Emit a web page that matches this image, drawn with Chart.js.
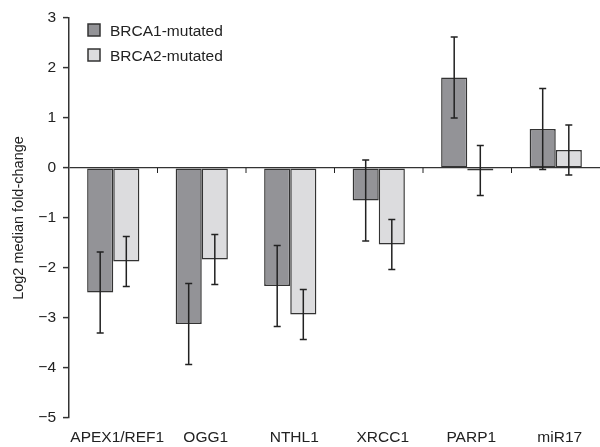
<!DOCTYPE html>
<html>
<head>
<meta charset="utf-8">
<script src="https://cdn.jsdelivr.net/npm/chart.js@4"></script>
<style>
  body { margin: 0; background: #fff; }
  #wrap { width: 600px; height: 447px; position: relative; }
</style>
</head>
<body>
<div id="wrap"><canvas id="chart"></canvas></div>
<script>
// Data
const genes = ["APEX1/REF1", "OGG1", "NTHL1", "XRCC1", "PARP1", "miR17"];
const brca1 = [-2.49, -3.12, -2.36, -0.65, 1.81, 0.78];
const brca1Err = [0.81, 0.81, 0.81, 0.81, 0.81, 0.81];
const brca2 = [-1.87, -1.83, -2.93, -1.53, -0.05, 0.36];
const brca2Err = [0.50, 0.50, 0.50, 0.50, 0.50, 0.50];
const yTicks = [-5, -4, -3, -2, -1, 0, 1, 2, 3];

const FONT = '"Liberation Sans", Arial, Helvetica, sans-serif';
const INK = '#222';

// error bars on top of every bar
const errorBars = {
  id: 'errorBars',
  afterDatasetsDraw(chart) {
    const ctx = chart.ctx;
    const y = chart.scales.y;
    ctx.save();
    ctx.strokeStyle = INK;
    ctx.lineWidth = 1.5;
    chart.data.datasets.forEach((ds, i) => {
      const meta = chart.getDatasetMeta(i);
      meta.data.forEach((bar, j) => {
        const v = ds.data[j];
        const e = ds.errors[j];
        const top = y.getPixelForValue(v + e);
        const bot = y.getPixelForValue(v - e);
        ctx.beginPath();
        ctx.moveTo(bar.x, top);
        ctx.lineTo(bar.x, bot);
        ctx.moveTo(bar.x - 3.5, top);
        ctx.lineTo(bar.x + 3.5, top);
        ctx.moveTo(bar.x - 3.5, bot);
        ctx.lineTo(bar.x + 3.5, bot);
        ctx.stroke();
      });
    });
    ctx.restore();
  }
};

// small ticks on the zero line between categories + legend
const extras = {
  id: 'extras',
  afterDraw(chart) {
    const ctx = chart.ctx;
    const x = chart.scales.x;
    const y0 = chart.scales.y.getPixelForValue(0);
    ctx.save();
    ctx.strokeStyle = INK;
    ctx.lineWidth = 1;
    for (let i = 1; i < genes.length; i++) {
      const px = (x.getPixelForValue(i - 1) + x.getPixelForValue(i)) / 2;
      ctx.beginPath();
      ctx.moveTo(px, y0);
      ctx.lineTo(px, y0 + 5);
      ctx.stroke();
    }
    // legend
    ctx.font = '15.5px ' + FONT;
    ctx.textBaseline = 'alphabetic';
    ctx.textAlign = 'left';
    chart.data.datasets.forEach((ds, i) => {
      const by = 24 + i * 25;
      ctx.fillStyle = ds.backgroundColor;
      ctx.fillRect(88, by, 12, 12);
      ctx.lineWidth = 1.5;
      ctx.strokeStyle = '#333';
      ctx.strokeRect(88, by, 12, 12);
      ctx.fillStyle = INK;
      ctx.fillText(ds.label, 110, by + 12);
    });
    ctx.restore();
  }
};

new Chart(document.getElementById('chart'), {
  type: 'bar',
  data: {
    labels: genes,
    datasets: [
      {
        label: 'BRCA1-mutated',
        data: brca1,
        errors: brca1Err,
        backgroundColor: '#939397',
        borderColor: '#333',
        borderWidth: 1.5,
        borderSkipped: false
      },
      {
        label: 'BRCA2-mutated',
        data: brca2,
        errors: brca2Err,
        backgroundColor: '#dcdcde',
        borderColor: '#333',
        borderWidth: 1.5,
        borderSkipped: false
      }
    ]
  },
  options: {
    responsive: true,
    maintainAspectRatio: false,
    animation: false,
    layout: { padding: { top: 18, right: 0, bottom: 0, left: 0 } },
    datasets: { bar: { categoryPercentage: 0.59, barPercentage: 1.0 } },
    plugins: {
      legend: { display: false },
      tooltip: { enabled: false }
    },
    scales: {
      x: {
        grid: { display: false, drawTicks: false },
        border: { display: false },
        afterFit(scale) {
          scale.height = 29;
        },
        ticks: {
          color: INK,
          padding: 10,
          labelOffset: 4,
          maxRotation: 0,
          autoSkip: false,
          font: { family: FONT, size: 15.5 }
        }
      },
      y: {
        min: -5,
        max: 3,
        afterBuildTicks(scale) {
          scale.ticks = yTicks.map(v => ({ value: v }));
        },
        afterFit(scale) {
          scale.width = 69;
        },
        border: { display: true, color: '#333', width: 1.5 },
        grid: {
          drawOnChartArea: true,
          color: c => (c.tick && c.tick.value === 0 ? '#333' : 'rgba(0,0,0,0)'),
          lineWidth: 1.2,
          tickColor: '#333',
          tickLength: 6,
          tickWidth: 1.5
        },
        ticks: {
          color: INK,
          padding: 7,
          font: { family: FONT, size: 15.5 },
          callback: v => (v < 0 ? '\u2212' + Math.abs(v) : String(v))
        },
        title: {
          display: true,
          text: 'Log2 median fold-change',
          color: INK,
          padding: { top: 10, bottom: 0 },
          font: { family: FONT, size: 14.5 }
        }
      }
    }
  },
  plugins: [errorBars, extras]
});
</script>
</body>
</html>
